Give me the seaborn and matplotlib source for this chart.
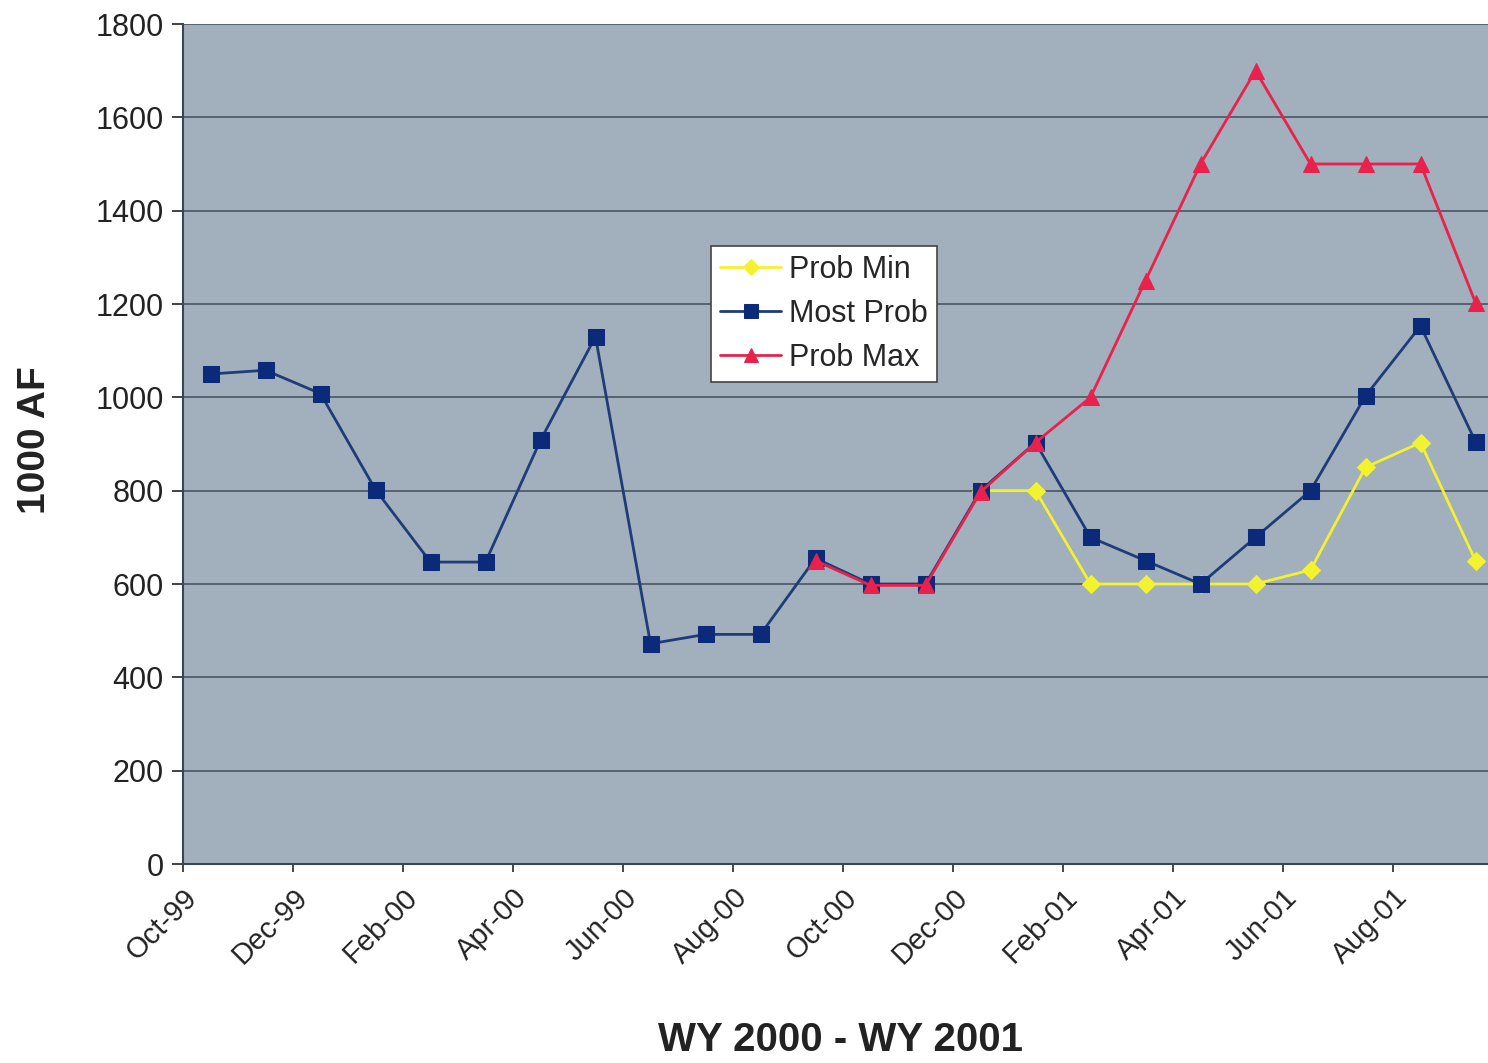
import numpy as np
import pandas as pd
import matplotlib
matplotlib.use("Agg")
import matplotlib.pyplot as plt
import matplotlib.transforms as mtransforms
import seaborn as sns

months = ["Oct-99", "Nov-99", "Dec-99", "Jan-00", "Feb-00", "Mar-00", "Apr-00", "May-00",
          "Jun-00", "Jul-00", "Aug-00", "Sep-00", "Oct-00", "Nov-00", "Dec-00", "Jan-01",
          "Feb-01", "Mar-01", "Apr-01", "May-01", "Jun-01", "Jul-01", "Aug-01", "Sep-01"]
most_prob = [1050, 1058, 1008, 802, 647, 647, 908, 1130, 472, 492, 492, 655,
             600, 600, 800, 903, 700, 650, 600, 700, 800, 1003, 1153, 905]
prob_max_months = months[11:]
prob_max = [650, 597, 597, 797, 903, 1000, 1250, 1500, 1700, 1500, 1500, 1500, 1203]
prob_min_months = months[14:]
prob_min = [800, 800, 600, 600, 600, 600, 630, 850, 903, 650]
tick_labels = months[::2]

sns.set_theme(style="white")
plt.rcParams["font.family"] = ["Liberation Sans", "DejaVu Sans"]

pos = {m: i + 0.5 for i, m in enumerate(months)}
df_most = pd.DataFrame({"x": [pos[m] for m in months], "y": most_prob})
df_max = pd.DataFrame({"x": [pos[m] for m in prob_max_months], "y": prob_max})
df_min = pd.DataFrame({"x": [pos[m] for m in prob_min_months], "y": prob_min})

fig = plt.figure(figsize=(14.88, 10.63), dpi=100)
ax = fig.add_axes([183 / 1488, 199 / 1063, 1320 / 1488, 840 / 1063])
ax.set_facecolor("#a2afbc")

sns.lineplot(data=df_min, x="x", y="y", ax=ax, color="#f2f230", lw=2, marker="D",
             markersize=9, markeredgecolor="#f2f230", label="Prob Min", zorder=3)
sns.lineplot(data=df_most, x="x", y="y", ax=ax, color="#1e3c78", lw=2, marker="s",
             markersize=11, markerfacecolor="#0c2a7a", markeredgecolor="#0c2a7a",
             label="Most Prob", zorder=4)
sns.lineplot(data=df_max, x="x", y="y", ax=ax, color="#e8224c", lw=2, marker="^",
             markersize=11, markeredgecolor="#e8224c", label="Prob Max", zorder=5)

ax.set_xlim(0, 24)
ax.set_ylim(0, 1800)
ax.set_yticks(np.arange(0, 1801, 200))
ax.set_xticks(np.arange(0, 24, 2))
ax.set_xticklabels(tick_labels, rotation=45, ha="right", va="top", rotation_mode="anchor",
                   fontsize=21, color="#222222")
offset = mtransforms.ScaledTranslation(14 / 100, 0, fig.dpi_scale_trans)
for lbl in ax.get_xticklabels():
    lbl.set_transform(lbl.get_transform() + offset)
ax.tick_params(axis="y", labelsize=22, colors="#222222", length=8, width=1.2,
               direction="out", left=True, pad=6)
ax.tick_params(axis="x", length=6, width=1.2, direction="out", bottom=True, pad=8)
ax.grid(axis="y", color="#4a5663", lw=1.2)
ax.grid(axis="x", visible=False)
for s in ["top", "right"]:
    ax.spines[s].set_visible(False)
for s in ["left", "bottom"]:
    ax.spines[s].set_color("#3a4550")
    ax.spines[s].set_linewidth(1.5)

ax.set_xlabel("WY 2000 - WY 2001", fontsize=29, fontweight="bold", color="#222222")
ax.xaxis.set_label_coords((840 - 183) / 1320, -(1040 - 864) / 840)
ax.xaxis.label.set_va("center")
ax.set_ylabel("1000 AF", fontsize=28, fontweight="bold", color="#222222")
ax.yaxis.set_label_coords((35 - 183) / 1320, (864 - 440) / 840)
ax.yaxis.label.set_va("center")

leg = ax.legend(loc="upper left", bbox_to_anchor=((711 - 183) / 1320, (864 - 246) / 840),
                fontsize=22, frameon=True, fancybox=False, edgecolor="#444444",
                framealpha=1, handlelength=2.0, handletextpad=0.25, borderpad=0.3,
                labelspacing=0.45, borderaxespad=0, markerscale=0.9)
leg.get_frame().set_linewidth(1.2)

fig.savefig("out.png", dpi=100)
